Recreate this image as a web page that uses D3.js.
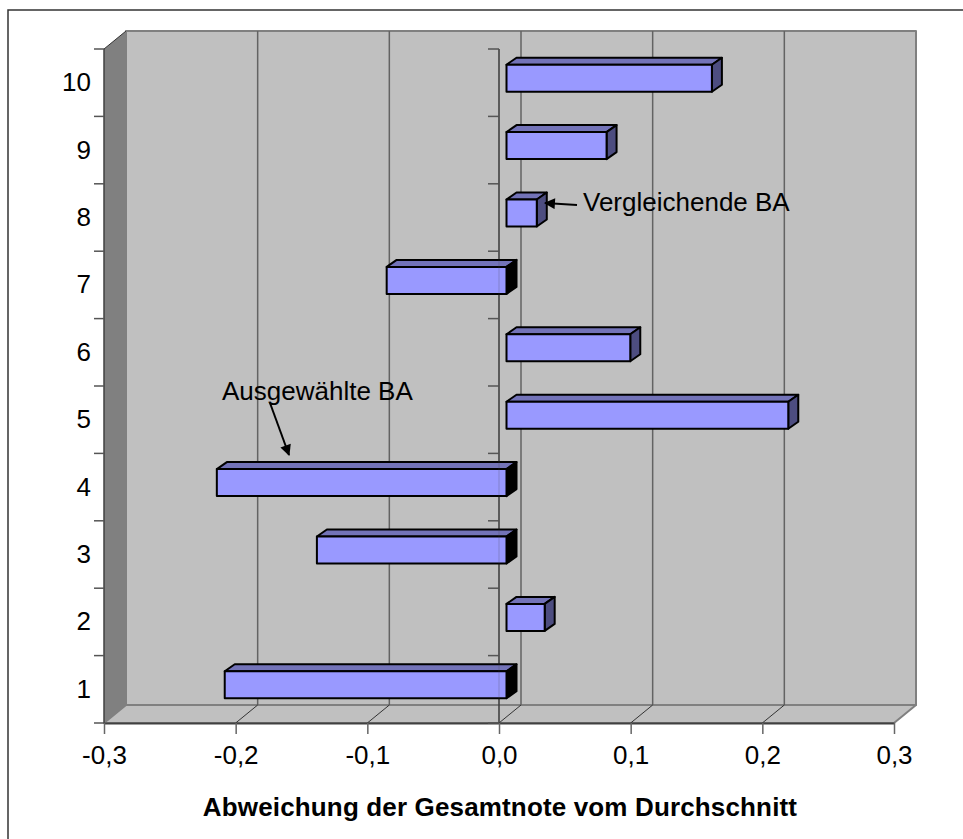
<!DOCTYPE html>
<html>
<head>
<meta charset="utf-8">
<script src="https://cdn.jsdelivr.net/npm/d3@7"></script>
<style>
  html, body { margin: 0; padding: 0; background: #fff; overflow: hidden; }
  svg { display: block; }
  text { font-family: "Liberation Sans", Arial, sans-serif; fill: #000; }
</style>
</head>
<body>
<div id="chart"></div>
<script>
// values
var categories = [1, 2, 3, 4, 5, 6, 7, 8, 9, 10];
var deviations = [-0.214, 0.029, -0.144, -0.22, 0.214, 0.094, -0.091, 0.023, 0.076, 0.156];
var xTicks = [-0.3, -0.2, -0.1, 0, 0.1, 0.2, 0.3];
var xTitle = 'Abweichung der Gesamtnote vom Durchschnitt';

var width = 963, height = 839;
var left = 104, right = 894, top_ = 49, bottom = 723;
// depth of the 3d box, and how far the bars sit inside it
var depthX = 22, depthY = -18;
var barDx = 7.5, barDy = -4.5, barDepthX = 10, barDepthY = -7, barHeight = 27;
var fontSize = 26;

var svg = d3.select('#chart').append('svg')
  .attr('width', width)
  .attr('height', height);

svg.append('defs').append('marker')
  .attr('id', 'arrow')
  .attr('viewBox', '0 0 10 10')
  .attr('refX', 9).attr('refY', 5)
  .attr('markerWidth', 12).attr('markerHeight', 11)
  .attr('markerUnits', 'userSpaceOnUse')
  .attr('orient', 'auto')
  .append('path').attr('d', 'M0,0L10,5L0,10Z').attr('fill', '#000');

// outer frame, its right and bottom edges are cut off by the picture
svg.append('rect')
  .attr('x', 8).attr('y', 10)
  .attr('width', width + 20).attr('height', height + 20)
  .attr('fill', '#fff').attr('stroke', '#333').attr('stroke-width', 1.5);

var x = d3.scaleLinear().domain([-0.3, 0.3]).range([left, right]);
var y = d3.scaleBand().domain(categories).range([bottom, top_]);

function poly(points, fill, stroke, sw) {
  return svg.append('polygon')
    .attr('points', points.map(function (p) { return p.join(','); }).join(' '))
    .attr('fill', fill)
    .attr('stroke', stroke || 'none')
    .attr('stroke-width', sw || 0)
    .attr('stroke-linejoin', 'round');
}

// WALLS
poly([[left + depthX, top_ + depthY], [right + depthX, top_ + depthY], [right + depthX, bottom + depthY], [left + depthX, bottom + depthY]], '#c0c0c0', '#808080', 2);
poly([[left, bottom], [left + depthX, bottom + depthY], [right + depthX, bottom + depthY], [right, bottom]], '#c0c0c0', '#808080', 2);
poly([[left, top_], [left + depthX, top_ + depthY], [left + depthX, bottom + depthY], [left, bottom]], '#808080');
svg.append('line')
  .attr('x1', left).attr('y1', top_)
  .attr('x2', left + depthX).attr('y2', top_ + depthY)
  .attr('stroke', '#333').attr('stroke-width', 1);

// GRID LINES on back wall and floor
xTicks.slice(1, -1).forEach(function (t) {
  var px = x(t);
  svg.append('line')
    .attr('x1', px + depthX).attr('x2', px + depthX)
    .attr('y1', top_ + depthY).attr('y2', bottom + depthY)
    .attr('stroke', '#636363').attr('stroke-width', 1.5);
  svg.append('line')
    .attr('x1', px).attr('x2', px + depthX)
    .attr('y1', bottom).attr('y2', bottom + depthY)
    .attr('stroke', '#333').attr('stroke-width', 1);
});

// AXES
var xAxis = d3.axisBottom(x)
  .tickValues(xTicks)
  .tickSize(11)
  .tickSizeOuter(0)
  .tickPadding(11.5)
  .tickFormat(function (d) { return d3.format('.1f')(d).replace('.', ',').replace('−', '-'); });

var gx = svg.append('g')
  .attr('transform', 'translate(0,' + bottom + ')')
  .call(xAxis);
gx.select('.domain').attr('stroke', '#404040').attr('stroke-width', 2);
gx.selectAll('.tick line').attr('stroke', '#666').attr('stroke-width', 1.5);
gx.selectAll('.tick text').attr('font-size', fontSize).attr('font-family', '"Liberation Sans"').attr('fill', '#000');

// band edges for the tick marks on the category axis
var bandEdges = categories.map(function (c) { return y(c) + y.bandwidth(); }).concat([top_]);

function catTicks(px, ticksLeft) {
  svg.append('line')
    .attr('x1', px).attr('x2', px)
    .attr('y1', top_).attr('y2', bottom)
    .attr('stroke', '#404040').attr('stroke-width', 1.5);
  svg.selectAll(null)
    .data(bandEdges)
    .enter().append('line')
    .attr('x1', px - ticksLeft).attr('x2', px)
    .attr('y1', function (d) { return d; })
    .attr('y2', function (d) { return d; })
    .attr('stroke', '#555').attr('stroke-width', 1.5);
}
catTicks(x(-0.3), 10);
catTicks(x(0), 11);

svg.selectAll('.cat')
  .data(categories)
  .enter().append('text')
  .attr('class', 'cat')
  .attr('x', 91)
  .attr('y', function (d) { return y(d) + y.bandwidth() / 2 + 8.5; })
  .attr('text-anchor', 'end')
  .attr('font-size', fontSize)
  .text(function (d) { return d; });

// BARS
categories.forEach(function (c, i) {
  var v = deviations[i];
  var x0 = x(Math.min(v, 0)) + barDx;
  var x1 = x(Math.max(v, 0)) + barDx;
  var yT = y(c) + y.bandwidth() / 2 + barDy - barHeight / 2;
  var yB = yT + barHeight;
  var line = '#000';
  poly([[x0, yT], [x0 + barDepthX, yT + barDepthY], [x1 + barDepthX, yT + barDepthY], [x1, yT]], '#7373b8', line, 2);
  poly([[x1, yT], [x1 + barDepthX, yT + barDepthY], [x1 + barDepthX, yB + barDepthY], [x1, yB]], v < 0 ? '#000' : '#4d4d80', line, 2);
  poly([[x0, yT], [x1, yT], [x1, yB], [x0, yB]], '#9999ff', line, 2);
});

// zero axis shows faintly through the bars
svg.append('line')
  .attr('x1', x(0)).attr('x2', x(0))
  .attr('y1', top_).attr('y2', bottom)
  .attr('stroke', '#404040').attr('stroke-width', 1).attr('opacity', 0.25);

// ANNOTATIONS
svg.append('text').attr('x', 222).attr('y', 400).attr('font-size', fontSize).text('Ausgewählte BA');
svg.append('text').attr('x', 583).attr('y', 211).attr('font-size', fontSize).text('Vergleichende BA');
svg.append('line')
  .attr('x1', 270).attr('y1', 403).attr('x2', 289).attr('y2', 455)
  .attr('stroke', '#000').attr('stroke-width', 2).attr('marker-end', 'url(#arrow)');
svg.append('line')
  .attr('x1', 577).attr('y1', 205).attr('x2', 545).attr('y2', 203)
  .attr('stroke', '#000').attr('stroke-width', 2).attr('marker-end', 'url(#arrow)');

svg.append('text')
  .attr('x', 500).attr('y', 816)
  .attr('text-anchor', 'middle')
  .attr('font-size', 26).attr('font-weight', 'bold')
  .attr('letter-spacing', 0.15)
  .text(xTitle);
</script>
</body>
</html>
